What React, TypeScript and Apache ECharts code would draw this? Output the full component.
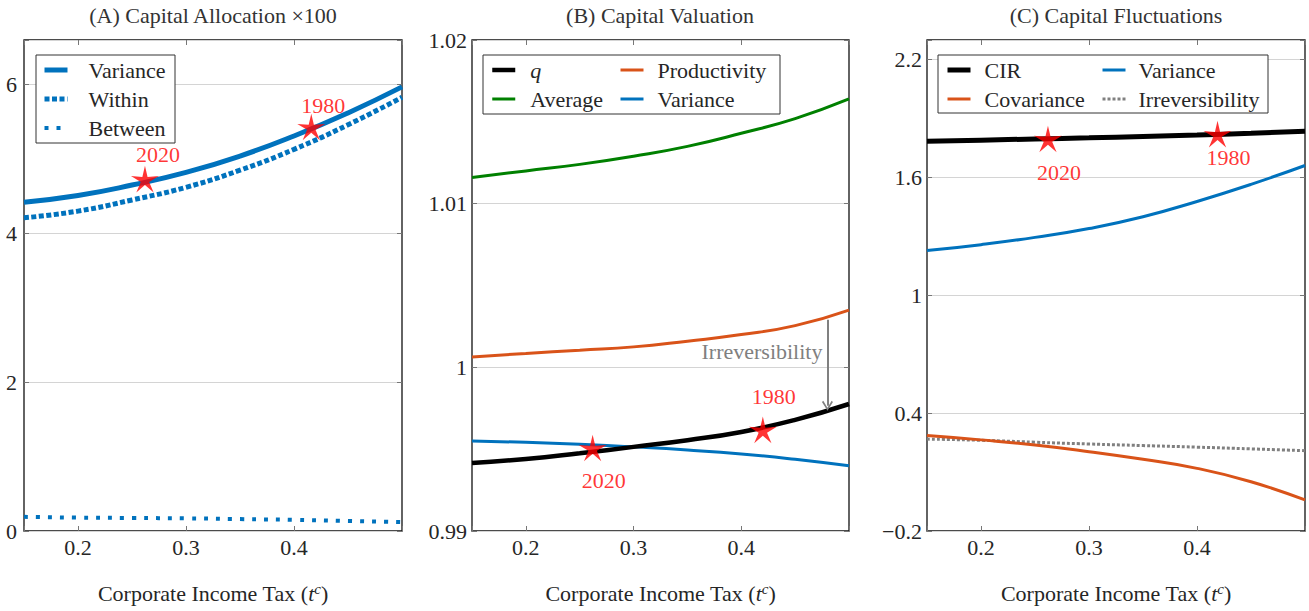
import React, { useEffect, useRef } from "react";
import * as echarts from "echarts";

const X = [0.15, 0.2, 0.25, 0.3, 0.35, 0.4, 0.45, 0.5];
const X_TICKS = [0.2, 0.3, 0.4];

const A_VARIANCE = [4.42, 4.51, 4.65, 4.82, 5.04, 5.31, 5.62, 5.97];
const A_WITHIN = [4.21, 4.3, 4.45, 4.62, 4.85, 5.13, 5.46, 5.83];
const A_BETWEEN = [0.19, 0.18, 0.175, 0.17, 0.16, 0.15, 0.135, 0.12];
const A_Y_TICKS = [0, 2, 4, 6];

const B_Q = [0.99416, 0.9944, 0.99475, 0.99514, 0.99555, 0.99605, 0.99679, 0.99776];
const B_AVERAGE = [1.0116, 1.012, 1.0124, 1.0129, 1.0135, 1.0143, 1.0152, 1.0164];
const B_PRODUCTIVITY = [1.00063, 1.00085, 1.00105, 1.00125, 1.0016, 1.002, 1.00255, 1.0035];
const B_VARIANCE = [0.9955, 0.99542, 0.9953, 0.99514, 0.99495, 0.99471, 0.99438, 0.99398];
const B_Y_TICKS = [0.99, 1, 1.01, 1.02];

const C_CIR = [1.784, 1.79, 1.796, 1.802, 1.809, 1.816, 1.825, 1.835];
const C_COVARIANCE = [0.286, 0.264, 0.238, 0.204, 0.165, 0.119, 0.051, -0.042];
const C_VARIANCE = [1.228, 1.258, 1.295, 1.34, 1.4, 1.478, 1.565, 1.661];
const C_IRREVERSIBILITY = [0.268, 0.262, 0.252, 0.243, 0.235, 0.227, 0.218, 0.209];
const C_Y_TICKS = [-0.2, 0.4, 1, 1.6, 2.2];

const YEARS = ["2020", "1980"];
const A_STAR_X = [0.262, 0.416];
const A_STAR_Y = [4.73, 5.43];
const B_STAR_X = [0.262, 0.42];
const B_STAR_Y = [0.99507, 0.99618];
const C_STAR_X = [0.262, 0.419];
const C_STAR_Y = [1.796, 1.821];

const IRREV_X = 0.48;
const IRREV_FROM = 1.0029;
const IRREV_TO = 0.99765;
const IRREV_TEXT_Y = 1.00094;

const TITLES = ["(A) Capital Allocation \u00d7100", "(B) Capital Valuation", "(C) Capital Fluctuations"];

const LABELS: Record<string, string> = {
  A_Variance: "Variance",
  A_Within: "Within",
  A_Between: "Between",
  B_q: "q",
  B_Average: "Average",
  B_Productivity: "Productivity",
  B_Variance: "Variance",
  C_CIR: "CIR",
  C_Covariance: "Covariance",
  C_Variance: "Variance",
  C_Irreversibility: "Irreversibility",
};

const FONT = "Liberation Serif";
const FS = 22;
const BLUE = "#0072BD";
const ORANGE = "#D95319";
const GREEN = "#008000";
const GRAY = "#808080";
const RED = "#ff0000";
const TEXT = "#262626";

const GRIDS = [
  { left: 24, top: 40, width: 378, height: 491 },
  { left: 472, top: 40, width: 377, height: 491 },
  { left: 927, top: 40, width: 378, height: 491 },
];

function starPath(R: number, r: number) {
  const pts: string[] = [];
  for (let i = 0; i < 10; i++) {
    const ang = (-90 + i * 36) * (Math.PI / 180);
    const rad = i % 2 === 0 ? R : r;
    pts.push(`${(R + rad * Math.cos(ang)).toFixed(2)},${(R + rad * Math.sin(ang)).toFixed(2)}`);
  }
  return "path://M" + pts.join(" L") + " Z";
}
const STAR = starPath(50, 15);
const CHEVRON = "path://M5,0 L10,8 L8.8,9 L5,2.8 L1.2,9 L0,8 Z";

const near = (arr: number[], v: number) => arr.some((t) => Math.abs(t - v) < 1e-7);
const fmtNum = (v: number) => {
  const r = Math.round(v * 1000) / 1000;
  const s = String(Math.abs(r));
  return r < 0 ? "\u2212" + s : s;
};

function line(name: string, g: number, data: number[], color: string, width: number, type: any = "solid") {
  return {
    type: "line",
    name,
    xAxisIndex: g,
    yAxisIndex: g,
    data: X.map((x, i) => [x, data[i]]),
    smooth: 0.5,
    symbol: "none",
    lineStyle: { color, width, type, cap: "butt" },
    itemStyle: { color },
    z: 3,
  };
}

function stars(name: string, g: number, xs: number[], ys: number[], offsets: number[][]) {
  return {
    type: "scatter",
    name,
    xAxisIndex: g,
    yAxisIndex: g,
    symbol: STAR,
    symbolSize: 28,
    symbolKeepAspect: true,
    itemStyle: { color: RED },
    z: 6,
    data: xs.map((x, i) => ({
      value: [x, ys[i]],
      label: {
        show: true,
        formatter: YEARS[i],
        position: "inside",
        offset: offsets[i],
        color: RED,
        fontSize: FS,
        fontFamily: FONT,
      },
    })),
  };
}

const tick = { show: true, inside: true, length: 5, lineStyle: { color: "#777", width: 1 } };

function xAxes() {
  const out: any[] = [];
  for (let g = 0; g < 3; g++) {
    out.push({
      type: "value",
      gridIndex: g,
      position: "bottom",
      min: 0.15,
      max: 0.5,
      splitNumber: 3,
      axisLine: { show: false, onZero: false },
      axisTick: tick,
      splitLine: { show: false },
      axisLabel: {
        margin: 5,
        fontFamily: FONT,
        fontSize: FS,
        color: TEXT,
        formatter: (v: number) => (near(X_TICKS, v) ? v.toFixed(1) : ""),
      },
      name: "Corporate Income Tax ({i|t}{s|c})",
      nameLocation: "middle",
      nameGap: 50,
      nameTextStyle: {
        fontFamily: FONT,
        fontSize: FS,
        color: TEXT,
        lineHeight: 24,
        rich: {
          i: { fontFamily: FONT, fontSize: FS, fontStyle: "italic", color: TEXT, lineHeight: 24 },
          s: { fontFamily: FONT, fontSize: 15, fontStyle: "italic", color: TEXT, lineHeight: 10, verticalAlign: "top" },
        },
      },
    });
  }
  for (let g = 0; g < 3; g++) {
    out.push({
      type: "value",
      gridIndex: g,
      position: "top",
      min: 0.15,
      max: 0.5,
      splitNumber: 3,
      axisLine: { show: false, onZero: false },
      axisTick: tick,
      splitLine: { show: false },
      axisLabel: { show: false },
    });
  }
  return out;
}

function yAxes() {
  const cfg = [
    { min: 0, max: 6.6, interval: 2, ticks: A_Y_TICKS, margin: 7 },
    { min: 0.99, max: 1.02, interval: 0.01, ticks: B_Y_TICKS, margin: 5 },
    { min: -0.2, max: 2.3, interval: 0.6, ticks: C_Y_TICKS, margin: 5 },
  ];
  const out: any[] = [];
  cfg.forEach((c, g) => {
    out.push({
      type: "value",
      gridIndex: g,
      position: "left",
      min: c.min,
      max: c.max,
      interval: c.interval,
      axisLine: { show: false, onZero: false },
      axisTick: tick,
      splitLine: { show: true, lineStyle: { color: "#d4d4d4", width: 1.2 } },
      axisLabel: {
        margin: c.margin,
        fontFamily: FONT,
        fontSize: FS,
        color: TEXT,
        formatter: (v: number) => (near(c.ticks, Math.round(v * 1e6) / 1e6) ? fmtNum(v) : ""),
      },
    });
  });
  cfg.forEach((c, g) => {
    out.push({
      type: "value",
      gridIndex: g,
      position: "right",
      min: c.min,
      max: c.max,
      interval: c.interval,
      axisLine: { show: false, onZero: false },
      axisTick: tick,
      splitLine: { show: false },
      axisLabel: { show: false },
    });
  });
  return out;
}

function legend(names: string[], left: number, pad: number) {
  return {
    data: names,
    left,
    top: 55.5,
    orient: "vertical",
    itemWidth: 23,
    itemHeight: 8,
    itemGap: 0,
    padding: 0,
    selectedMode: false,
    itemStyle: { opacity: 0 },
    lineStyle: { width: "inherit", type: "inherit" },
    formatter: (n: string) => (LABELS[n] === "q" ? "{q|q}" : `{t|${LABELS[n]}}`),
    textStyle: {
      fontFamily: FONT,
      fontSize: FS,
      color: TEXT,
      lineHeight: 29,
      rich: {
        t: { fontFamily: FONT, fontSize: FS, color: TEXT, lineHeight: 29, padding: [0, 0, 0, pad] },
        q: { fontFamily: FONT, fontSize: FS, color: TEXT, lineHeight: 29, fontStyle: "italic", padding: [0, 0, 0, pad] },
      },
    },
  };
}

const BOXES = [
  { x: 36, y: 55, w: 139, h: 88 },
  { x: 483, y: 55, w: 297, h: 59 },
  { x: 938, y: 55, w: 330, h: 58 },
];
const TITLE_X = [213, 660, 1116];

const option: any = {
  animation: false,
  backgroundColor: "#fff",
  grid: GRIDS.map((g) => ({ ...g, show: true, borderColor: "#111", borderWidth: 1.3, backgroundColor: "transparent", containLabel: false })),
  xAxis: xAxes(),
  yAxis: yAxes(),
  legend: [
    legend(["A_Variance", "A_Within", "A_Between"], 42, 16),
    legend(["B_q", "B_Average"], 490, 10),
    legend(["B_Productivity", "B_Variance"], 619, 9),
    legend(["C_CIR", "C_Covariance"], 945, 9),
    legend(["C_Variance", "C_Irreversibility"], 1101, 8),
  ],
  graphic: [
    ...BOXES.map((b) => ({
      type: "rect",
      shape: { x: b.x, y: b.y, width: b.w, height: b.h },
      style: { fill: "#fff", stroke: "#333", lineWidth: 1 },
      z: 3,
      silent: true,
    })),
    ...TITLES.map((t, i) => ({
      type: "text",
      x: TITLE_X[i],
      y: 15,
      style: { text: t, fontFamily: FONT, fontSize: FS, fill: "#333", align: "center", verticalAlign: "middle" },
      silent: true,
    })),
  ],
  series: [
    line("A_Variance", 0, A_VARIANCE, BLUE, 5),
    line("A_Within", 0, A_WITHIN, BLUE, 5, [5, 2.5]),
    line("A_Between", 0, A_BETWEEN, BLUE, 4, [4, 8]),
    stars("A_Stars", 0, A_STAR_X, A_STAR_Y, [[13, -25], [12, -22]]),

    line("B_Average", 1, B_AVERAGE, GREEN, 3),
    {
      ...line("B_Productivity", 1, B_PRODUCTIVITY, ORANGE, 3),
      markLine: {
        silent: true,
        symbol: ["none", CHEVRON],
        symbolSize: [11, 10],
        lineStyle: { color: GRAY, width: 2, type: "solid" },
        label: { show: false },
        data: [[{ coord: [IRREV_X, IRREV_FROM] }, { coord: [IRREV_X, IRREV_TO] }]],
      },
      markPoint: {
        silent: true,
        symbol: "circle",
        symbolSize: 0,
        itemStyle: { color: "transparent" },
        data: [
          {
            coord: [IRREV_X, IRREV_TEXT_Y],
            label: {
              show: true,
              formatter: "Irreversibility",
              position: "left",
              distance: 5,
              color: GRAY,
              fontSize: FS,
              fontFamily: FONT,
            },
          },
        ],
      },
    },
    line("B_Variance", 1, B_VARIANCE, BLUE, 3),
    line("B_q", 1, B_Q, "#000", 4.5),
    stars("B_Stars", 1, B_STAR_X, B_STAR_Y, [[11, 32], [11, -33]]),

    line("C_Variance", 2, C_VARIANCE, BLUE, 3),
    line("C_Irreversibility", 2, C_IRREVERSIBILITY, GRAY, 3, [3, 2]),
    line("C_Covariance", 2, C_COVARIANCE, ORANGE, 3),
    line("C_CIR", 2, C_CIR, "#000", 5),
    stars("C_Stars", 2, C_STAR_X, C_STAR_Y, [[11, 34], [11, 23]]),
  ],
};

export default function App() {
  const ref = useRef<HTMLDivElement>(null);
  useEffect(() => {
    const chart = echarts.init(ref.current!, null, { renderer: "svg" });
    chart.setOption(option);
    return () => chart.dispose();
  }, []);
  return <div ref={ref} style={{ position: "absolute", left: 0, top: 0, width: 1309, height: 611 }} />;
}
